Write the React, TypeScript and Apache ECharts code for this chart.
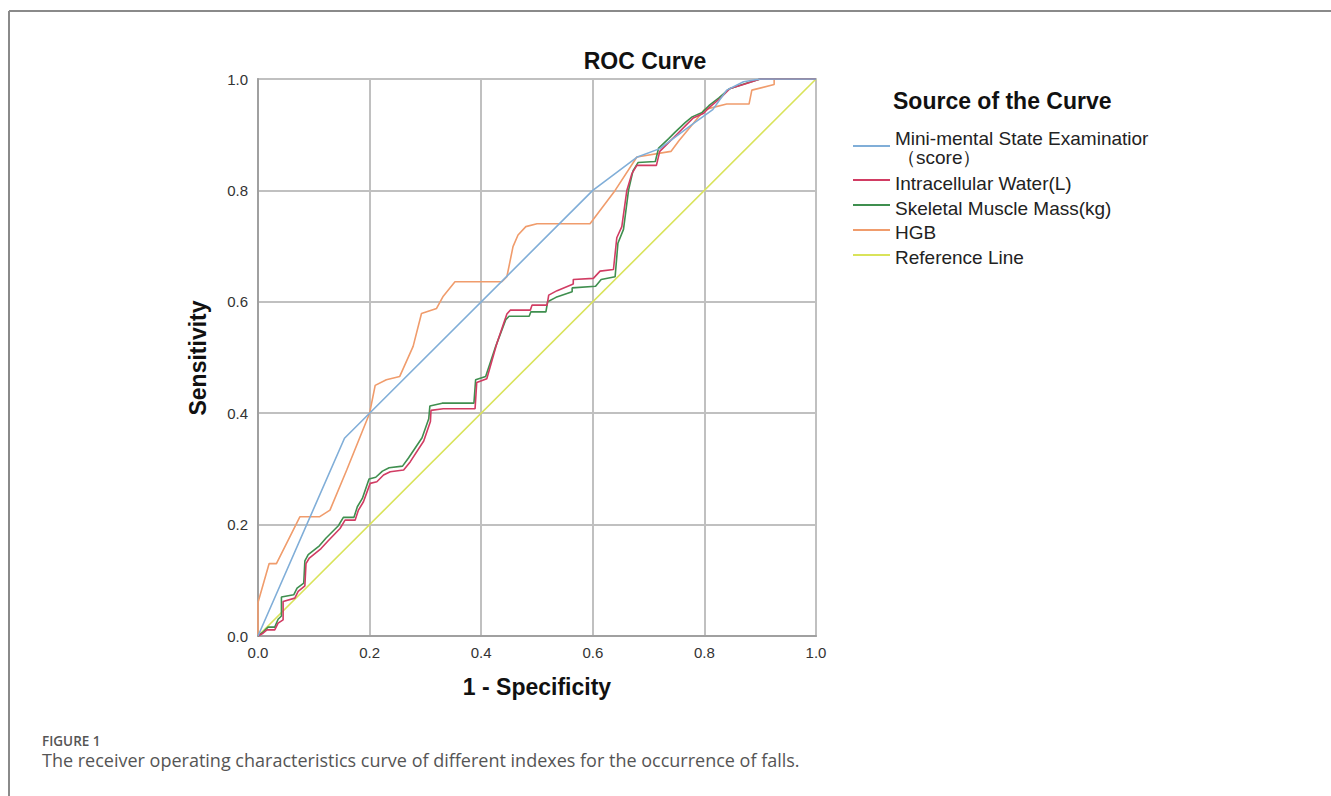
import React, { useEffect, useRef } from "react";
import * as echarts from "echarts";

const xTicks = [0, 0.2, 0.4, 0.6, 0.8, 1.0];
const seriesNames = [
  "Mini-mental State Examinatior（score）",
  "Intracellular Water(L)",
  "Skeletal Muscle Mass(kg)",
  "HGB",
  "Reference Line",
];
const seriesColors = ["#80aed8", "#d13c63", "#3f8f4f", "#f09c6c", "#d9e35a"];

const mmse = [
  [0, 0], [0.155, 0.355], [0.6, 0.8], [0.68, 0.86], [0.72, 0.875], [0.78, 0.92],
  [0.815, 0.945], [0.84, 0.98], [0.87, 0.995], [0.9, 1], [1, 1],
];
const icw = [
  [0, 0], [0.009, 0.005], [0.016, 0.011], [0.03, 0.011], [0.036, 0.023], [0.045, 0.029],
  [0.045, 0.062], [0.066, 0.068], [0.072, 0.08], [0.084, 0.09], [0.086, 0.13], [0.092, 0.14],
  [0.113, 0.157], [0.125, 0.17], [0.147, 0.193], [0.156, 0.208], [0.174, 0.208], [0.18, 0.226],
  [0.189, 0.241], [0.201, 0.274], [0.213, 0.277], [0.225, 0.289], [0.237, 0.295], [0.261, 0.298],
  [0.273, 0.313], [0.297, 0.35], [0.309, 0.385], [0.31, 0.405], [0.332, 0.408], [0.389, 0.408],
  [0.392, 0.455], [0.41, 0.462], [0.428, 0.525], [0.446, 0.578], [0.452, 0.585], [0.488, 0.585],
  [0.491, 0.594], [0.518, 0.594], [0.521, 0.612], [0.536, 0.62], [0.565, 0.632], [0.565, 0.64],
  [0.601, 0.642], [0.613, 0.655], [0.637, 0.658], [0.643, 0.715], [0.652, 0.735], [0.661, 0.8],
  [0.67, 0.83], [0.679, 0.845], [0.714, 0.845], [0.72, 0.87], [0.738, 0.888], [0.75, 0.9],
  [0.768, 0.918], [0.78, 0.93], [0.798, 0.938], [0.81, 0.95], [0.828, 0.965], [0.846, 0.983],
  [0.87, 0.99], [0.9, 1], [1, 1],
];
const smm = [
  [0, 0], [0.01, 0.008], [0.018, 0.016], [0.03, 0.016], [0.036, 0.03], [0.042, 0.036],
  [0.042, 0.07], [0.064, 0.074], [0.07, 0.086], [0.082, 0.095], [0.084, 0.135], [0.09, 0.146],
  [0.11, 0.162], [0.122, 0.176], [0.144, 0.198], [0.153, 0.213], [0.172, 0.213], [0.178, 0.232],
  [0.187, 0.247], [0.199, 0.282], [0.211, 0.285], [0.223, 0.296], [0.235, 0.302], [0.259, 0.305],
  [0.27, 0.32], [0.294, 0.356], [0.306, 0.39], [0.308, 0.413], [0.33, 0.418], [0.387, 0.418],
  [0.39, 0.46], [0.408, 0.466], [0.426, 0.52], [0.444, 0.568], [0.45, 0.574], [0.486, 0.574],
  [0.489, 0.582], [0.516, 0.582], [0.519, 0.6], [0.534, 0.608], [0.563, 0.618], [0.563, 0.625],
  [0.605, 0.628], [0.615, 0.64], [0.64, 0.645], [0.645, 0.705], [0.655, 0.73], [0.664, 0.8],
  [0.672, 0.835], [0.681, 0.85], [0.712, 0.852], [0.718, 0.876], [0.736, 0.893], [0.748, 0.905],
  [0.766, 0.922], [0.778, 0.932], [0.796, 0.94], [0.808, 0.952], [0.826, 0.966], [0.844, 0.982],
  [0.868, 0.99], [0.9, 1], [1, 1],
];
const hgb = [
  [0, 0], [0, 0.06], [0.02, 0.13], [0.033, 0.13], [0.075, 0.214], [0.11, 0.214], [0.129, 0.226],
  [0.159, 0.298], [0.2, 0.4], [0.21, 0.45], [0.23, 0.46], [0.254, 0.466], [0.278, 0.52],
  [0.293, 0.579], [0.32, 0.588], [0.332, 0.61], [0.353, 0.636], [0.437, 0.636], [0.446, 0.645],
  [0.457, 0.699], [0.466, 0.72], [0.48, 0.735], [0.5, 0.74], [0.595, 0.74], [0.64, 0.8],
  [0.679, 0.86], [0.74, 0.87], [0.755, 0.89], [0.78, 0.92], [0.8, 0.945], [0.84, 0.955],
  [0.88, 0.955], [0.885, 0.98], [0.925, 0.99], [0.925, 1], [1, 1],
];
const refLine = [[0, 0], [1, 1]];

const seriesData = [mmse, icw, smm, hgb, refLine];

export default function App() {
  const ref = useRef<HTMLDivElement>(null);
  useEffect(() => {
    if (!ref.current) return;
    const chart = echarts.init(ref.current, null, { renderer: "svg" });
    const sans = "'Liberation Sans', Arial, sans-serif";
    const legendX = 853;
    const legendRows = [146, 180, 205, 230, 255];
    const legendGraphics: any[] = [];
    legendRows.forEach((y, i) => {
      legendGraphics.push({
        type: "line",
        shape: { x1: legendX, y1: y, x2: legendX + 37, y2: y },
        style: { stroke: seriesColors[i], lineWidth: 2 },
      });
    });
    const legendLabels = [
      { text: "Mini-mental State Examinatior", x: 895, y: 138 },
      { text: "（score）", x: 897, y: 157 },
      { text: seriesNames[1], x: 895, y: 183 },
      { text: seriesNames[2], x: 895, y: 208 },
      { text: seriesNames[3], x: 895, y: 232 },
      { text: seriesNames[4], x: 895, y: 257 },
    ];
    legendLabels.forEach((l) => {
      legendGraphics.push({
        type: "text",
        x: l.x,
        y: l.y,
        style: {
          text: l.text,
          fill: "#222",
          font: `19px ${sans}`,
          verticalAlign: "middle",
          align: "left",
        },
      });
    });

    chart.setOption({
      animation: false,
      backgroundColor: "#fff",
      grid: {
        left: 258,
        top: 79,
        width: 558,
        height: 557,
        show: true,
        borderColor: "#c8c8c8",
        borderWidth: 2,
      },
      xAxis: {
        type: "value",
        min: 0,
        max: 1,
        interval: 0.2,
        axisLine: { show: true, lineStyle: { color: "#a0a0a0", width: 2 } },
        axisTick: { show: false },
        splitLine: { show: true, lineStyle: { color: "#c0c0c0", width: 2 } },
        axisLabel: {
          color: "#333",
          fontSize: 15,
          fontFamily: sans,
          margin: 9,
          formatter: (v: number) => v.toFixed(1),
        },
      },
      yAxis: {
        type: "value",
        min: 0,
        max: 1,
        interval: 0.2,
        axisLine: { show: true, lineStyle: { color: "#a0a0a0", width: 2 } },
        axisTick: { show: false },
        splitLine: { show: true, lineStyle: { color: "#c0c0c0", width: 2 } },
        axisLabel: {
          color: "#333",
          fontSize: 15,
          fontFamily: sans,
          margin: 10,
          formatter: (v: number) => v.toFixed(1),
        },
      },
      series: seriesData
        .map((d, i) => ({
          name: seriesNames[i],
          type: "line",
          data: d,
          symbol: "none",
          lineStyle: { color: seriesColors[i], width: 1.6 },
          z: i === 4 ? 1 : 5 - i + 2,
        }))
        .reverse(),
      graphic: [
        {
          type: "line",
          shape: { x1: 9, y1: 11, x2: 1331, y2: 11 },
          style: { stroke: "#8a8a8a", lineWidth: 2 },
        },
        {
          type: "line",
          shape: { x1: 9, y1: 11, x2: 9, y2: 796 },
          style: { stroke: "#8a8a8a", lineWidth: 2 },
        },
        {
          type: "text",
          x: 645,
          y: 61,
          style: {
            text: "ROC Curve",
            fill: "#111",
            font: `bold 23px ${sans}`,
            align: "center",
            verticalAlign: "middle",
          },
        },
        {
          type: "text",
          x: 537,
          y: 687,
          style: {
            text: "1 - Specificity",
            fill: "#111",
            font: `bold 23px ${sans}`,
            align: "center",
            verticalAlign: "middle",
          },
        },
        {
          type: "text",
          x: 198,
          y: 358,
          rotation: Math.PI / 2,
          style: {
            text: "Sensitivity",
            fill: "#111",
            font: `bold 23px ${sans}`,
            align: "center",
            verticalAlign: "middle",
          },
        },
        {
          type: "text",
          x: 893,
          y: 101,
          style: {
            text: "Source of the Curve",
            fill: "#111",
            font: `bold 23px ${sans}`,
            align: "left",
            verticalAlign: "middle",
          },
        },
        ...legendGraphics,
        {
          type: "text",
          x: 42,
          y: 741,
          style: {
            text: "FIGURE 1",
            fill: "#555",
            font: `600 13.5px 'Open Sans', sans-serif`,
            align: "left",
            verticalAlign: "middle",
          },
        },
        {
          type: "text",
          x: 42,
          y: 760,
          style: {
            text: "The receiver operating characteristics curve of different indexes for the occurrence of falls.",
            fill: "#555",
            font: `18px 'Open Sans', sans-serif`,
            align: "left",
            verticalAlign: "middle",
          },
        },
      ],
    });
    return () => chart.dispose();
  }, []);
  return (
    <div
      ref={ref}
      style={{ position: "absolute", left: 0, top: 0, width: 1331, height: 796, background: "#fff" }}
    />
  );
}
